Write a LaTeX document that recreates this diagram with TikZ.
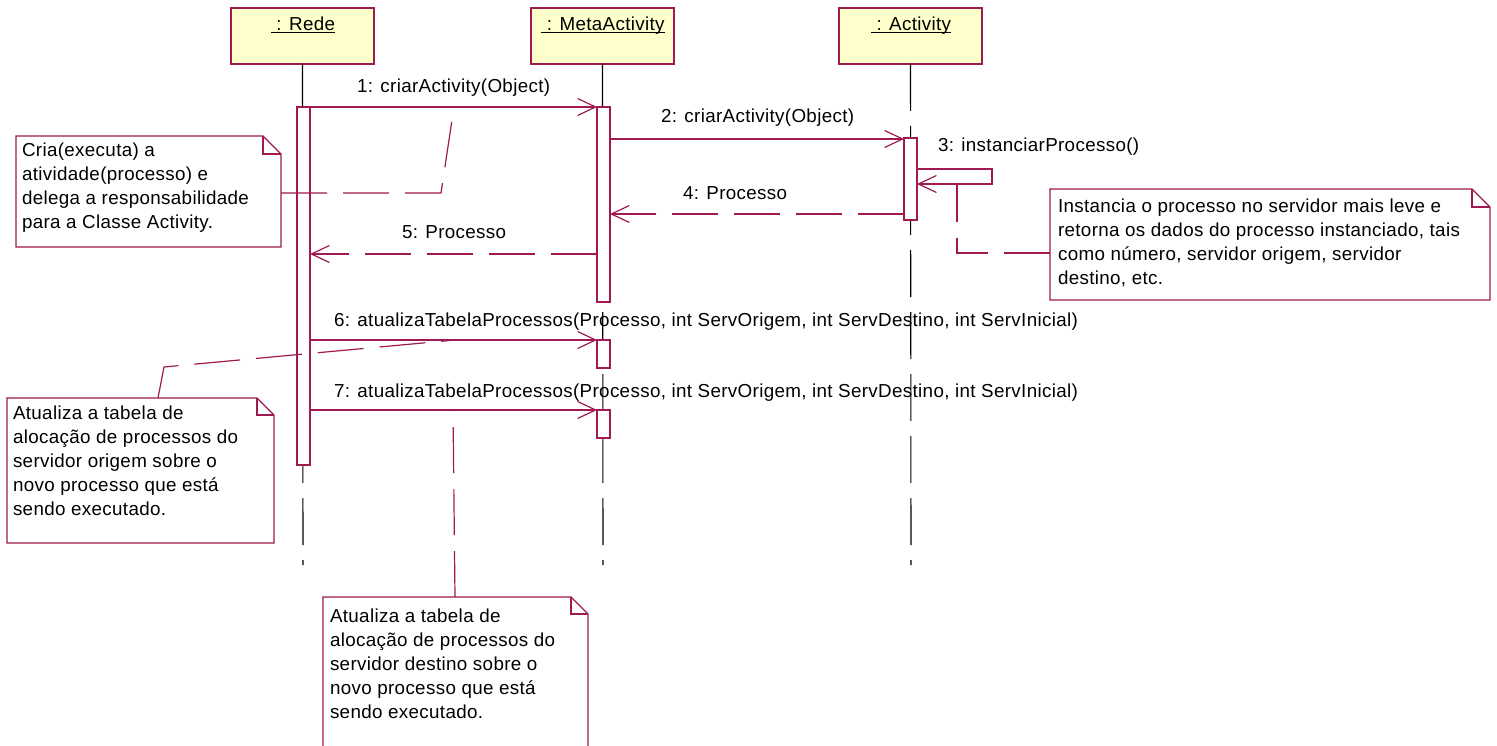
\documentclass[tikz,border=0pt]{standalone}
\usepackage{fontspec}
\setmainfont{Liberation Sans}[LetterSpace=1.8]
\usetikzlibrary{arrows.meta}
\definecolor{crim}{RGB}{160,25,80}
\definecolor{objfill}{RGB}{255,255,204}
\begin{document}
\begin{tikzpicture}[x=1pt,y=-1pt,
  every node/.style={font=\fontsize{18.8}{24}\selectfont, inner sep=0pt, outer sep=0pt},
  objbox/.style={draw=crim, fill=objfill, line width=1.2pt, anchor=north west},
  actbox/.style={draw=crim, fill=white, line width=1.2pt, anchor=north west, minimum width=13pt},
  life/.style={draw=black, line width=1.1pt, dash pattern=on 47pt off 15pt},
  msg/.style={draw=crim, line width=1.2pt, -{Straight Barb[length=18pt,width=17pt]}},
  retmsg/.style={msg, dash pattern=on 46pt off 16pt},
  notelink/.style={draw=crim, line width=1.2pt, dash pattern=on 46pt off 16pt},
  noteline/.style={draw=crim, fill=white, line width=1.2pt, line join=miter},
  lbl/.style={anchor=base west},
  notetext/.style={anchor=north west, align=left},
  objlbl/.style={anchor=base}
]
\useasboundingbox (0,0) rectangle (1497,746);
\fill[white] (0,0) rectangle (1497,746);

% objects
\node[objbox, minimum width=143pt, minimum height=56pt] (rede) at (231,8) {};
\node[objbox, minimum width=143pt, minimum height=56pt] (meta) at (531,8) {};
\node[objbox, minimum width=143pt, minimum height=56pt] (activ) at (839,8) {};
\node[objlbl] (redeL) at (303,31) {\underline{\smash{\ : Rede}}};
\node[objlbl] (metaL) at (603,31) {\underline{\smash{\ : MetaActivity}}};
\node[objlbl] (activL) at (911,31) {\underline{\smash{\ : Activity}}};

% lifelines
\coordinate (redeEnd) at (303,565);
\coordinate (metaEnd) at (603,565);
\coordinate (activEnd) at (911,565);
\draw[life] (rede.south) -- (redeEnd);
\draw[life] (meta.south) -- (metaEnd);
\draw[life] (activ.south) -- (activEnd);

% activations
\node[actbox, minimum height=358pt] (aR) at (297,107) {};
\node[actbox, minimum height=195pt] (aM1) at (597,107) {};
\node[actbox, minimum height=28pt] (aM2) at (597,340) {};
\node[actbox, minimum height=28pt] (aM3) at (597,410) {};
\node[actbox, minimum height=82pt] (aA) at (904,138) {};

% messages
\coordinate (m2s) at (610,139);
\coordinate (m2e) at (904,139);
\coordinate (m3s) at (917,169);
\coordinate (m3a) at (992,169);
\coordinate (m3b) at (992,184);
\coordinate (m3e) at (917,184);
\coordinate (m4s) at (904,214);
\coordinate (m4e) at (610,214);
\coordinate (m5s) at (597,254);
\coordinate (m5e) at (310,254);
\coordinate (m6s) at (310,340);
\coordinate (m7s) at (310,410);

\draw[msg] (aR.north east) -- (aM1.north west);
\draw[msg] (m2s) -- (m2e);
\draw[msg] (m3s) -- (m3a) -- (m3b) -- (m3e);
\draw[retmsg] (m4s) -- (m4e);
\draw[retmsg] (m5s) -- (m5e);
\draw[msg] (m6s) -- (aM2.north west);
\draw[msg] (m7s) -- (aM3.north west);

\node[lbl] (l1) at (357,93) {1: criarActivity(Object)};
\node[lbl] (l2) at (661,123) {2: criarActivity(Object)};
\node[lbl] (l3) at (938,152) {3: instanciarProcesso()};
\node[lbl] (l4) at (683,200) {4: Processo};
\node[lbl] (l5) at (402,239) {5: Processo};
\node[lbl] (l6) at (334,326) {6: atualizaTabelaProcessos(Processo, int ServOrigem, int ServDestino, int ServInicial)};
\node[lbl] (l7) at (334,397) {7: atualizaTabelaProcessos(Processo, int ServOrigem, int ServDestino, int ServInicial)};

% note A
\draw[noteline] (16,136) -- (263,136) -- (281,154) -- (281,247) -- (16,247) -- cycle;
\draw[noteline, fill=none] (263,136) -- (263,154) -- (281,154);
\node[notetext] (nA) at (22,143) {\rule{0pt}{14pt}Cria(executa) a\\atividade(processo) e\\delega a responsabilidade\\para a Classe Activity.};
\coordinate (nAc) at (281,193);
\coordinate (nAk) at (441,193);
\coordinate (nAe) at (452,120);
\draw[notelink] (nAc) -- (nAk) -- (nAe);

% note B
\draw[noteline] (1050,189) -- (1472,189) -- (1490,207) -- (1490,300) -- (1050,300) -- cycle;
\draw[noteline, fill=none] (1472,189) -- (1472,207) -- (1490,207);
\node[notetext] (nB) at (1058,198) {\rule{0pt}{14pt}Instancia o processo no servidor mais leve e\\retorna os dados do processo instanciado, tais\\como número, servidor origem, servidor\\destino, etc.};
\coordinate (nBc) at (1050,253);
\coordinate (nBk) at (957,253);
\draw[notelink] (nBc) -- (nBk) -- (m3e -| nBk);

% note C
\draw[noteline] (7,398) -- (257,398) -- (274,415) -- (274,543) -- (7,543) -- cycle;
\draw[noteline, fill=none] (257,398) -- (257,415) -- (274,415);
\node[notetext] (nC) at (13,405) {\rule{0pt}{14pt}Atualiza a tabela de\\alocação de processos do\\servidor origem sobre o\\novo processo que está\\sendo executado.};
\coordinate (nCc) at (158,398);
\coordinate (nCk) at (164,367);
\coordinate (nCe) at (455,340);
\draw[notelink] (nCc) -- (nCk) -- (nCe);

% note D
\draw[noteline] (323,597) -- (571,597) -- (588,614) -- (588,760) -- (323,760) -- cycle;
\draw[noteline, fill=none] (571,597) -- (571,614) -- (588,614);
\node[notetext] (nD) at (330,608) {\rule{0pt}{14pt}Atualiza a tabela de\\alocação de processos do\\servidor destino sobre o\\novo processo que está\\sendo executado.};
\coordinate (nDc) at (455,597);
\coordinate (nDe) at (453,410);
\draw[notelink] (nDc) -- (nDe);
\end{tikzpicture}
\end{document}
